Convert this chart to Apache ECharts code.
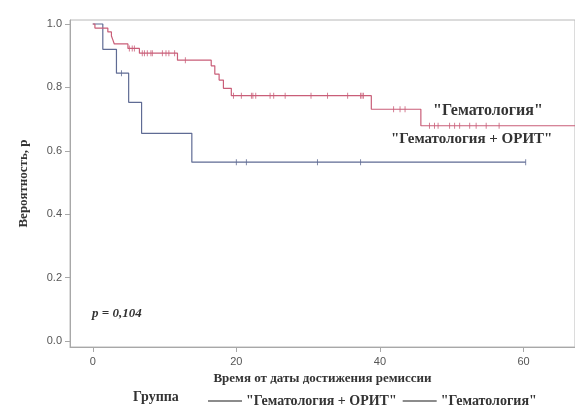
<!DOCTYPE html>
<html>
<head>
<meta charset="utf-8">
<script src="https://cdn.jsdelivr.net/npm/echarts@6/dist/echarts.min.js"></script>
<style>
html,body{margin:0;padding:0;background:#fff;}
#chart{width:575px;height:407px;}
</style>
</head>
<body>
<div id="chart"></div>
<script>
// Kaplan-Meier steps
const gemName = '"Гематология"';
const oritName = '"Гематология + ОРИТ"';

const gemTimes = [0, 0.3, 2.1, 2.6, 2.8, 3.0, 4.9, 6.5, 11.8, 16.5, 17.0, 17.6, 18.2, 19.3, 38.8, 45.7, 67.2];
const gemSurv  = [1.0, 0.987, 0.975, 0.962, 0.95, 0.937, 0.923, 0.908, 0.886, 0.868, 0.842, 0.823, 0.797, 0.774, 0.731, 0.679, 0.679];
const gemCensor = [5.1, 5.5, 5.8, 6.9, 7.2, 7.6, 8.1, 8.3, 9.7, 10.2, 10.6, 11.4, 12.9,
  19.6, 20.7, 22.1, 22.3, 22.7, 24.7, 25.2, 26.8, 30.4, 32.7, 35.5, 37.3, 37.5, 37.7,
  41.9, 42.8, 43.5, 46.9, 47.6, 48.1, 49.7, 50.4, 51.1, 52.5, 53.4, 54.8, 56.6];

const oritTimes = [0, 1.4, 3.3, 5.0, 6.8, 13.8, 60.3];
const oritSurv  = [1.0, 0.920, 0.845, 0.753, 0.655, 0.564, 0.564];
const oritCensor = [4.0, 20.0, 21.4, 31.3, 37.3, 60.3];

const xTicks = [0, 20, 40, 60];
const yTicks = [0, 0.2, 0.4, 0.6, 0.8, 1.0];

const gemColor = '#c95e78';
const oritColor = '#5f6b94';

function stepAt(times, surv, t) {
  let v = surv[0];
  for (let i = 0; i < times.length; i++) if (times[i] <= t) v = surv[i];
  return v;
}
const zip = (a, b) => a.map((v, i) => [v, b[i]]);

const chart = echarts.init(document.getElementById('chart'), null, {renderer: 'canvas'});
const serif = '"Liberation Serif", "DejaVu Serif", serif';
const sans = '"Liberation Sans", Arial, sans-serif';

chart.setOption({
  animation: false,
  backgroundColor: '#fff',
  grid: {left: 70, top: 20, width: 510, height: 327, show: true, borderColor: '#b8b8b8', borderWidth: 1},
  xAxis: {
    type: 'value', min: -3.17, max: 67.17,
    splitLine: {show: false},
    axisLine: {show: true, onZero: false, lineStyle: {color: '#a8a8a8'}},
    axisTick: {show: true, customValues: xTicks, length: 5, lineStyle: {color: '#a8a8a8'}},
    axisLabel: {customValues: xTicks, color: '#555', fontFamily: sans, fontSize: 11, margin: 9},
    name: 'Время от даты достижения ремиссии', nameLocation: 'middle', nameGap: 24,
    nameTextStyle: {fontFamily: serif, fontWeight: 'bold', fontSize: 13, color: '#333'}
  },
  yAxis: {
    type: 'value', min: -0.019, max: 1.0126,
    splitLine: {show: false},
    axisLine: {show: true, onZero: false, lineStyle: {color: '#a8a8a8'}},
    axisTick: {show: true, customValues: yTicks, length: 5, lineStyle: {color: '#a8a8a8'}},
    axisLabel: {customValues: yTicks, color: '#555', fontFamily: sans, fontSize: 11, margin: 8,
      formatter: v => v.toFixed(1)},
    name: 'Вероятность, p', nameLocation: 'middle', nameGap: 40,
    nameTextStyle: {fontFamily: serif, fontWeight: 'bold', fontSize: 13, color: '#333'}
  },
  legend: {
    left: 203, top: 389, itemWidth: 34, itemHeight: 1.5, itemGap: 6, icon: 'rect',
    textStyle: {fontFamily: serif, fontWeight: 'bold', fontSize: 14, color: '#333', padding: [0, 0, 0, -1]},
    data: [
      {name: oritName, itemStyle: {color: '#666'}},
      {name: gemName, itemStyle: {color: '#666'}}
    ]
  },
  series: [
    {name: gemName, type: 'line', step: 'end', symbol: 'none', data: zip(gemTimes, gemSurv),
      lineStyle: {color: gemColor, width: 1.2}, itemStyle: {color: gemColor}, z: 3},
    {name: oritName, type: 'line', step: 'end', symbol: 'none', data: zip(oritTimes, oritSurv),
      lineStyle: {color: oritColor, width: 1.2}, itemStyle: {color: oritColor}, z: 2},
    {name: 'gem-censor', type: 'scatter', symbol: 'rect', symbolSize: [1, 6],
      data: gemCensor.map(t => [t, stepAt(gemTimes, gemSurv, t)]), itemStyle: {color: gemColor}, z: 4},
    {name: 'orit-censor', type: 'scatter', symbol: 'rect', symbolSize: [1, 6],
      data: oritCensor.map(t => [t, stepAt(oritTimes, oritSurv, t)]), itemStyle: {color: oritColor}, z: 4}
  ],
  graphic: [
    {type: 'text', left: 133, top: 390, style: {text: 'Группа', fontFamily: serif, fontWeight: 'bold', fontSize: 14, fill: '#333'}},
    {type: 'text', left: 433, top: 103, style: {text: gemName, fontFamily: serif, fontWeight: 'bold', fontSize: 16, fill: '#333'}},
    {type: 'text', left: 391, top: 132, style: {text: oritName, fontFamily: serif, fontWeight: 'bold', fontSize: 15, fill: '#333'}},
    {type: 'text', left: 92, top: 307, style: {text: 'p = 0,104', fontFamily: serif, fontWeight: 'bold', fontStyle: 'italic', fontSize: 13, fill: '#333'}}
  ]
});
</script>
</body>
</html>
